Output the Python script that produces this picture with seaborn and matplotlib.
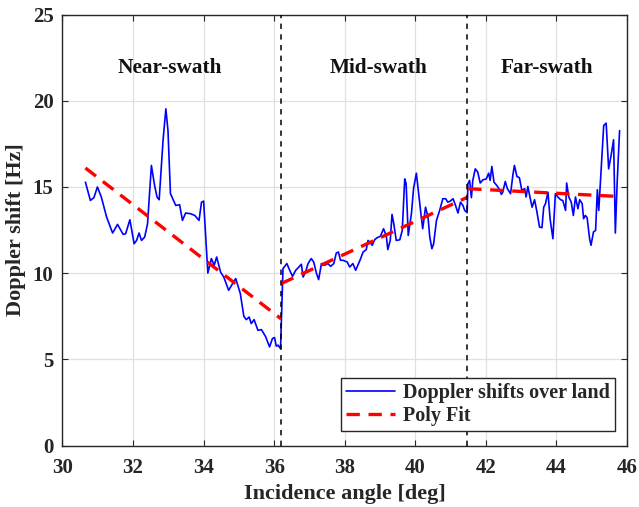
import numpy as np
import pandas as pd
import seaborn as sns
import matplotlib
matplotlib.use("Agg")
import matplotlib.pyplot as plt
from matplotlib.lines import Line2D

# ---------------- data ----------------
angle = [30.65, 30.79, 30.89, 30.99, 31.10, 31.25, 31.42, 31.56, 31.72, 31.79, 31.91,
         32.03, 32.10, 32.17, 32.24, 32.33, 32.41, 32.52, 32.61, 32.68, 32.74, 32.85,
         32.93, 32.99, 33.06, 33.21, 33.32, 33.40, 33.49, 33.63, 33.75, 33.87, 33.94,
         34.00, 34.12, 34.22, 34.30, 34.37, 34.48, 34.57, 34.71, 34.83, 34.91, 35.04,
         35.14, 35.21, 35.29, 35.35, 35.43, 35.54, 35.64, 35.76, 35.87, 35.95, 36.01,
         36.06, 36.11, 36.18,
         36.25, 36.36, 36.44, 36.52, 36.61, 36.70, 36.77, 36.82, 36.89, 36.96, 37.05,
         37.12, 37.20, 37.26, 37.34, 37.43, 37.52, 37.60, 37.69, 37.76, 37.82, 37.88,
         37.95, 38.07, 38.14, 38.23, 38.31, 38.37, 38.44, 38.52, 38.61, 38.66, 38.73,
         38.78, 38.85, 38.92, 39.01, 39.10, 39.18, 39.22, 39.29, 39.34, 39.39, 39.46,
         39.56, 39.63, 39.70, 39.74, 39.80, 39.89, 39.95, 40.03, 40.09, 40.17, 40.21,
         40.29, 40.36, 40.41, 40.47, 40.52, 40.60, 40.69, 40.78, 40.86, 40.92, 40.99,
         41.07, 41.14, 41.21, 41.28, 41.35, 41.40, 41.47,
         41.49, 41.54, 41.59, 41.63, 41.70, 41.77, 41.84, 41.92, 42.01, 42.08, 42.12,
         42.17, 42.23, 42.31, 42.37, 42.44, 42.48, 42.55, 42.61, 42.70, 42.77, 42.81,
         42.88, 42.95, 43.02, 43.10, 43.14, 43.19, 43.24, 43.31, 43.38, 43.44, 43.52,
         43.59, 43.64, 43.69, 43.76, 43.82, 43.90, 43.97, 44.04, 44.12, 44.18, 44.26,
         44.29, 44.35, 44.42, 44.48, 44.54, 44.61, 44.66, 44.73, 44.77, 44.82, 44.87,
         44.94, 44.98, 45.05, 45.11, 45.16, 45.20, 45.27, 45.34, 45.41, 45.48, 45.55,
         45.62, 45.67, 45.72, 45.79]
doppler = [15.28, 14.22, 14.38, 15.00, 14.42, 13.26, 12.33, 12.83, 12.25, 12.29, 13.10,
           11.71, 11.90, 12.33, 11.90, 12.10, 12.86, 16.25, 15.09, 14.41, 14.26, 17.70,
           19.53, 18.27, 14.61, 13.93, 13.97, 13.06, 13.49, 13.45, 13.35, 13.06, 14.12,
           14.18, 10.01, 10.85, 10.46, 10.94, 10.07, 9.78, 9.01, 9.43, 9.69, 8.82,
           7.50, 7.31, 7.46, 7.08, 7.31, 6.69, 6.73, 6.31, 5.73, 6.21, 6.27,
           5.77, 5.83, 5.63,
           10.27, 10.56, 10.17, 9.82, 10.17, 10.36, 10.52, 9.78, 10.07, 10.56, 10.85,
           10.65, 9.98, 9.63, 10.56, 10.46, 10.56, 10.40, 10.56, 11.17, 11.23, 10.75,
           10.75, 10.65, 10.36, 10.56, 10.17, 10.46, 10.79, 11.23, 11.37, 11.90, 11.75,
           11.62, 11.95, 12.06, 12.14, 12.58, 12.14, 11.37, 11.90, 13.41, 12.87, 11.90,
           11.94, 12.48, 15.47, 15.19, 12.19, 13.45, 14.90, 15.80, 14.70, 13.25, 12.58,
           13.83, 13.25, 12.10, 11.42, 11.71, 13.06, 13.64, 14.32, 14.32, 14.12, 14.18,
           14.32, 13.93, 13.49, 14.12, 13.93, 13.64, 13.51,
           15.19, 15.38, 14.38, 15.38, 16.05, 15.86, 15.23, 15.42, 15.46, 15.80, 15.38,
           16.19, 15.28, 15.09, 14.90, 14.57, 14.70, 15.32, 14.90, 14.61, 15.76, 16.25,
           15.61, 15.54, 14.80, 14.90, 14.42, 15.03, 14.51, 13.83, 14.26, 13.64, 12.68,
           12.64, 13.83, 14.03, 14.70, 13.16, 12.00, 14.61, 14.42, 14.26, 14.22, 13.64,
           15.23, 14.42, 14.12, 13.35, 14.42, 13.74, 14.26, 14.03, 13.16, 13.35, 13.22,
           12.00, 11.62, 12.39, 12.48, 14.84, 13.64, 16.14, 18.56, 18.70, 16.05, 16.83,
           17.74, 12.33, 15.19, 18.27]

# polynomial (linear) fit per swath: endpoints
fit_segment = ["near", "near", "mid", "mid", "far", "far"]
fit_angle = [30.65, 36.20, 36.20, 41.47, 41.50, 45.75]
fit_value = [16.10, 7.35, 9.40, 14.40, 14.90, 14.45]

swath_bounds = [36.2, 41.47]
swath_names = ["Near-swath", "Mid-swath", "Far-swath"]
swath_label_x = [33.05, 38.95, 43.72]
swath_label_y = 21.9

x_ticks = [30, 32, 34, 36, 38, 40, 42, 44, 46]
y_ticks = [0, 5, 10, 15, 20, 25]

# ---------------- plot ----------------
sns.set_style("ticks")
plt.rcParams["font.family"] = ["Liberation Serif", "DejaVu Serif"]
plt.rcParams["font.weight"] = "bold"

fig = plt.figure(figsize=(6.39, 5.07), dpi=100)
ax = fig.add_axes([0.0978, 0.1209, 0.8834, 0.8505])

df_obs = pd.DataFrame({"angle": angle, "doppler": doppler})
df_fit = pd.DataFrame({"angle": fit_angle, "value": fit_value, "seg": fit_segment})

sns.lineplot(data=df_obs, x="angle", y="doppler", ax=ax, color="#0000ff",
             linewidth=1.2, sort=False, estimator=None, legend=False, zorder=3)
sns.lineplot(data=df_fit, x="angle", y="value", units="seg", ax=ax, color="#ff0000",
             linewidth=2.4, estimator=None, sort=False, legend=False, zorder=4)
for ln in ax.lines[1:]:
    ln.set_dashes((4.0, 2.6))

for b in swath_bounds:
    ax.axvline(b, color="black", linewidth=1.1, dashes=(3.5, 3.5), zorder=5)

for name, xx in zip(swath_names, swath_label_x):
    ax.text(xx, swath_label_y, name, ha="center", va="center",
            fontsize=15.3, fontweight="bold", color="#111111")

ax.set_xlim(30, 46)
ax.set_ylim(0, 25)
ax.set_xticks(x_ticks)
ax.set_yticks(y_ticks)
ax.grid(True, color="#e0e0e0", linewidth=0.9, zorder=0)
ax.set_axisbelow(True)
ax.tick_params(direction="in", length=4, width=0.8, top=True, right=True,
               labelsize=15, colors="#262626")
ax.tick_params(axis="x", pad=8.5)
ax.tick_params(axis="y", pad=6.5)
for lab in ax.get_xticklabels() + ax.get_yticklabels():
    lab.set_fontweight("bold")
for sp in ax.spines.values():
    sp.set_color("#262626")
    sp.set_linewidth(1.0)

ax.set_xlabel("Incidence angle [deg]", fontsize=16, fontweight="bold", color="#262626", labelpad=5)
ax.set_ylabel("Doppler shift [Hz]", fontsize=16, fontweight="bold", color="#262626", labelpad=5)

handles = [Line2D([0], [0], color="#0000ff", linewidth=1.2),
           Line2D([0], [0], color="#ff0000", linewidth=2.4, dashes=(4.0, 2.6))]
leg = ax.legend(handles, ["Doppler shifts over land", "Poly Fit"], loc="lower right",
                bbox_to_anchor=(0.978, 0.035), frameon=True, fancybox=False,
                edgecolor="#262626", framealpha=1, fontsize=14.5, handlelength=2.4,
                borderpad=0.25, labelspacing=0.15, handletextpad=0.4, borderaxespad=0)
leg.get_frame().set_linewidth(1.0)
for t in leg.get_texts():
    t.set_fontweight("bold")

fig.savefig("out.png", dpi=100)
